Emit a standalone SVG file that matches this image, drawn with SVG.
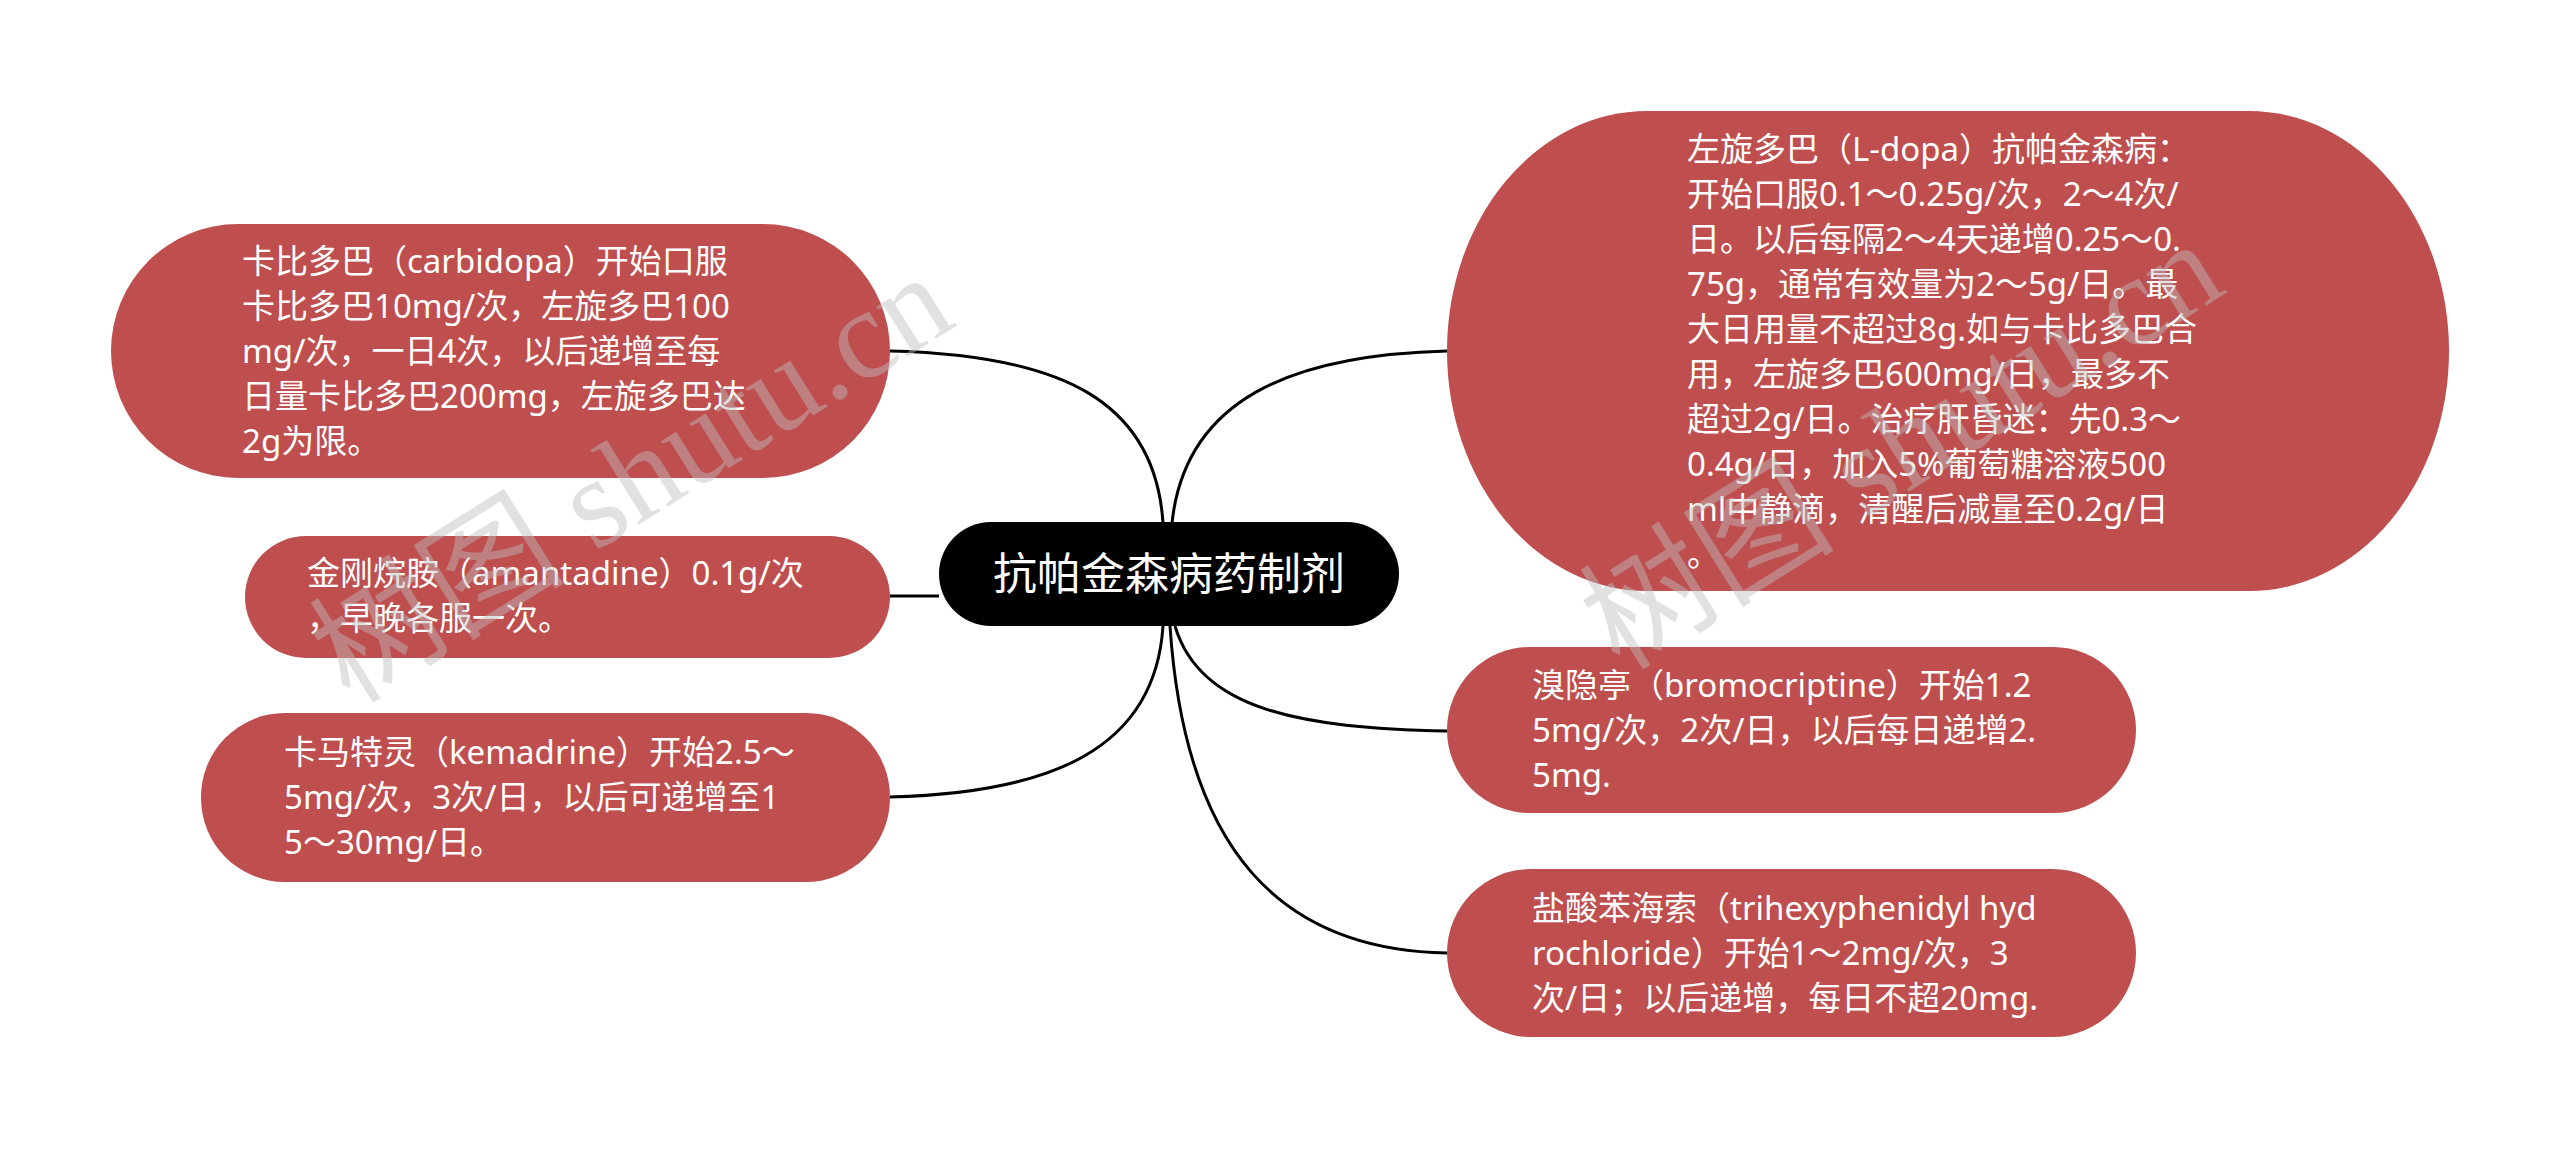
<svg xmlns="http://www.w3.org/2000/svg" width="2560" height="1150" viewBox="0 0 2560 1150">
<style>
.node{fill:#bf4e4e;}
.root{fill:#000;}
.t{font-family:'Noto Sans','Noto Sans CJK SC',sans-serif;font-size:33px;fill:#fff;}
.rt{font-family:'Noto Sans CJK SC',sans-serif;font-size:44px;fill:#fff;}
.conn{fill:none;stroke:#000;stroke-width:3;}
.wm{font-family:'Liberation Serif','Noto Sans CJK SC',serif;font-size:128px;fill:#bdbdbd;opacity:0.45;}
</style>
<rect width="2560" height="1150" fill="#fff"/>
<g id="connectors">
<path class="conn" d="M890,351 C1060,355 1155,400 1163,523"/>
<path class="conn" d="M890,596 L939,596"/>
<path class="conn" d="M1163,626 C1155,750 1050,793 890,797"/>
<path class="conn" d="M1172,523 C1185,400 1290,355 1447,351"/>
<path class="conn" d="M1175,626 C1200,710 1300,728 1447,731"/>
<path class="conn" d="M1170,626 C1185,850 1280,950 1447,953"/>
</g>
<g id="root">
<rect class="root" x="939" y="522" width="460" height="104" rx="52"/>
<text class="rt" x="1169" y="590" text-anchor="middle">抗帕金森病药制剂</text>
</g>
<g id="n-carbidopa">
<rect class="node" x="111" y="224" width="779" height="254" rx="127"/>
<text class="t"><tspan x="242" y="273">卡比多巴（carbidopa）开始口服</tspan><tspan x="242" y="318">卡比多巴10mg/次，左旋多巴100</tspan><tspan x="242" y="363">mg/次，一日4次，以后递增至每</tspan><tspan x="242" y="408">日量卡比多巴200mg，左旋多巴达</tspan><tspan x="242" y="453">2g为限。</tspan></text>
</g>
<g id="n-amantadine">
<rect class="node" x="245" y="536" width="645" height="122" rx="61"/>
<text class="t"><tspan x="307" y="585">金刚烷胺（amantadine）0.1g/次</tspan><tspan x="307" y="630">，早晚各服一次。</tspan></text>
</g>
<g id="n-kemadrine">
<rect class="node" x="201" y="713" width="689" height="169" rx="84"/>
<text class="t"><tspan x="284" y="764">卡马特灵（kemadrine）开始2.5～</tspan><tspan x="284" y="809">5mg/次，3次/日，以后可递增至1</tspan><tspan x="284" y="854">5～30mg/日。</tspan></text>
</g>
<g id="n-ldopa">
<rect class="node" x="1447" y="111" width="1002" height="480" rx="200" ry="240"/>
<text class="t"><tspan x="1687" y="161">左旋多巴（L-dopa）抗帕金森病：</tspan><tspan x="1687" y="206">开始口服0.1～0.25g/次，2～4次/</tspan><tspan x="1687" y="251">日。以后每隔2～4天递增0.25～0.</tspan><tspan x="1687" y="296">75g，通常有效量为2～5g/日。最</tspan><tspan x="1687" y="341">大日用量不超过8g.如与卡比多巴合</tspan><tspan x="1687" y="386">用，左旋多巴600mg/日，最多不</tspan><tspan x="1687" y="431">超过2g/日。治疗肝昏迷：先0.3～</tspan><tspan x="1687" y="476">0.4g/日，加入5%葡萄糖溶液500</tspan><tspan x="1687" y="521">ml中静滴，清醒后减量至0.2g/日</tspan><tspan x="1687" y="566">。</tspan></text>
</g>
<g id="n-bromocriptine">
<rect class="node" x="1447" y="647" width="689" height="166" rx="83"/>
<text class="t"><tspan x="1532" y="697">溴隐亭（bromocriptine）开始1.2</tspan><tspan x="1532" y="742">5mg/次，2次/日，以后每日递增2.</tspan><tspan x="1532" y="787">5mg.</tspan></text>
</g>
<g id="n-trihexyphenidyl">
<rect class="node" x="1447" y="869" width="689" height="168" rx="84"/>
<text class="t"><tspan x="1532" y="920">盐酸苯海索（trihexyphenidyl hyd</tspan><tspan x="1532" y="965">rochloride）开始1～2mg/次，3</tspan><tspan x="1532" y="1010">次/日；以后递增，每日不超20mg.</tspan></text>
</g>
<g id="watermark">
<text class="wm" x="350" y="705" transform="rotate(-32 350 705)">树图 shutu.cn</text>
<text class="wm" x="1620" y="672" transform="rotate(-32 1620 672)">树图 shutu.cn</text>
</g>
</svg>
